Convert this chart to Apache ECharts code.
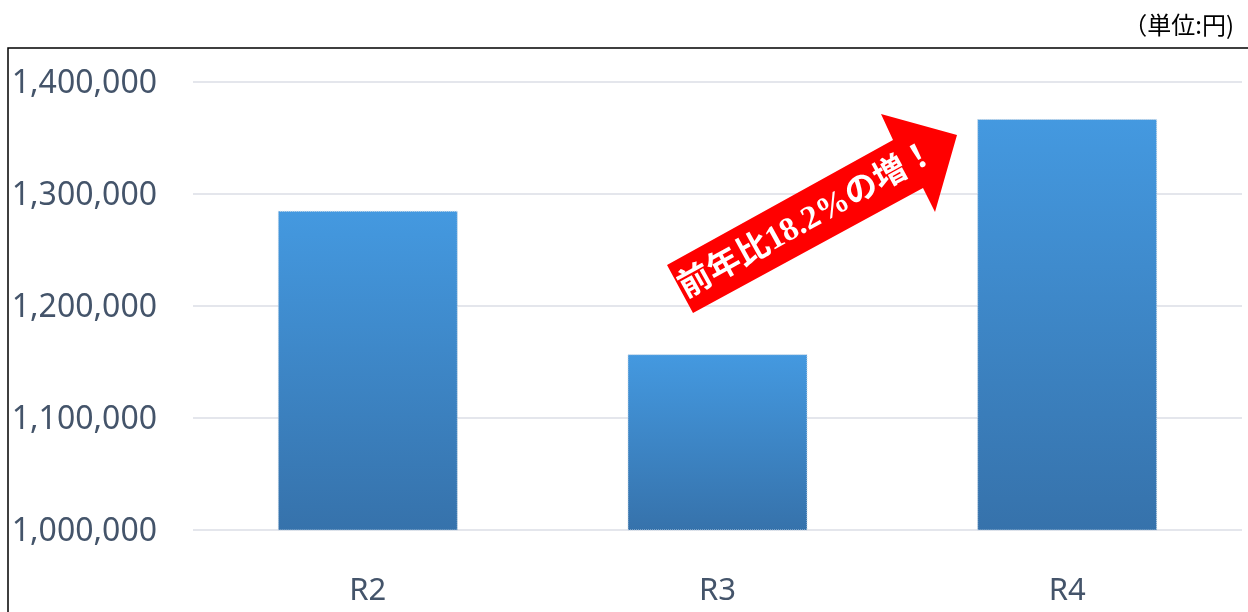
<!DOCTYPE html>
<html>
<head>
<meta charset="utf-8">
<script src="https://cdn.jsdelivr.net/npm/echarts@6/dist/echarts.min.js"></script>
<style>
  html, body { margin: 0; padding: 0; background: #fff; }
  #main { width: 1248px; height: 612px; }
</style>
</head>
<body>
<div id="main"></div>
<script>
let categories = ['R2', 'R3', 'R4'];
let amounts = [1285000, 1157000, 1367000];
let yTicks = [1000000, 1100000, 1200000, 1300000, 1400000];
let unitText = '（単位:円)';
let arrowText = '前年比18.2%の増！';

let myChart = echarts.init(document.getElementById('main'));

let labelColor = '#44546a';

let option = {
    animation: false,
    grid: {
        left: 193,
        right: 6,
        top: 82,
        bottom: 82
    },
    xAxis: {
        type: 'category',
        data: categories,
        axisLine: { show: false },
        axisTick: { show: false },
        axisLabel: {
            margin: 46,
            fontSize: 31,
            color: labelColor,
            fontFamily: 'Noto Sans'
        }
    },
    yAxis: {
        type: 'value',
        min: yTicks[0],
        max: yTicks[yTicks.length - 1],
        interval: 100000,
        axisLine: { show: false },
        axisTick: { show: false },
        splitLine: { lineStyle: { color: '#e4e6ec', width: 2 } },
        axisLabel: {
            margin: 36,
            fontSize: 32,
            color: labelColor,
            fontFamily: 'Noto Sans',
            verticalAlign: 'top',
            padding: [-14, 0, 0, 0],
            formatter: function (v) {
                return v.toLocaleString('en-US');
            }
        }
    },
    series: [{
        type: 'bar',
        data: amounts,
        barWidth: 180,
        itemStyle: {
            color: new echarts.graphic.LinearGradient(0, 0, 0, 1, [
                { offset: 0, color: '#4499e0' },
                { offset: 1, color: '#3672ab' }
            ]),
            borderColor: '#c9d8e6',
            borderWidth: 1,
            borderType: 'dotted'
        }
    }],
    graphic: [
        {
            type: 'rect',
            shape: { x: 8, y: 48, width: 1260, height: 600 },
            style: { fill: null, stroke: '#000', lineWidth: 1.5 },
            silent: true
        },
        {
            type: 'text',
            right: 14,
            top: 13,
            style: {
                text: unitText,
                fontSize: 24,
                fill: '#000',
                fontFamily: 'Noto Sans CJK JP'
            }
        },
        {
            type: 'polygon',
            shape: {
                points: [[667, 265], [893, 140], [881, 114], [957, 135], [935, 212], [923, 188], [693, 313]]
            },
            style: { fill: '#ff0000' },
            z: 10
        },
        {
            type: 'text',
            x: 808,
            y: 221,
            rotation: 0.505,
            style: {
                text: arrowText,
                fontSize: 33,
                fontWeight: 'bold',
                fill: '#fff',
                fontFamily: '"Liberation Serif", "Noto Sans CJK JP"',
                align: 'center',
                verticalAlign: 'middle'
            },
            z: 11
        }
    ]
};

myChart.setOption(option);
</script>
</body>
</html>
